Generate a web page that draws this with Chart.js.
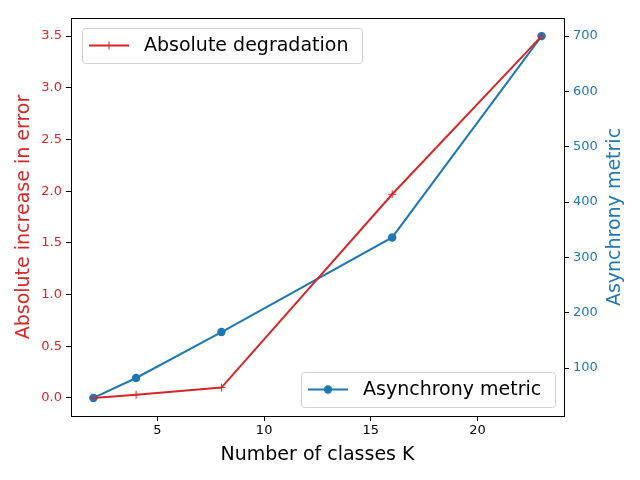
<!DOCTYPE html>
<html>
<head>
<meta charset="utf-8">
<script src="https://cdn.jsdelivr.net/npm/chart.js@4"></script>
<style>
  body { margin: 0; background: #fff; }
  #wrap { width: 640px; height: 480px; }
</style>
</head>
<body>
<div id="wrap"><canvas id="myChart" width="640" height="480"></canvas></div>
<script>
const classesK = [2, 4, 8, 16, 23];
const degradation = [0.0, 0.03, 0.1, 1.97, 3.5];
const asynchrony = [46, 82, 165, 336, 700];
const xTicks = [5, 10, 15, 20];
const leftTicks = [0, 0.5, 1.0, 1.5, 2.0, 2.5, 3.0, 3.5];
const rightTicks = [100, 200, 300, 400, 500, 600, 700];

const RED = '#d62728';
const BLUE = '#1f77b4';
const FONT = "'DejaVu Sans', sans-serif";

function toPoints(xs, ys) {
    return xs.map(function (x, i) { return { x: x, y: ys[i] }; });
}

// matplotlib-style legend boxes, one per axis
const boxLegends = {
    id: 'boxLegends',
    afterDraw: function (chart) {
        const ctx = chart.ctx;
        const area = chart.chartArea;
        const entries = [
            { ds: 0, label: 'Absolute degradation', x: area.left + 11, y: area.top + 10, w: 280, h: 35 },
            { ds: 1, label: 'Asynchrony metric', x: area.right - 263, y: area.bottom - 44, w: 254, h: 35 }
        ];
        entries.forEach(function (e) {
            const ds = chart.data.datasets[e.ds];
            ctx.save();
            ctx.fillStyle = 'rgba(255,255,255,0.8)';
            ctx.strokeStyle = '#d0d0d0';
            ctx.lineWidth = 1;
            ctx.beginPath();
            ctx.roundRect(e.x + 0.5, e.y + 0.5, e.w, e.h, 3);
            ctx.fill();
            ctx.stroke();
            const cy = e.y + e.h / 2;
            ctx.strokeStyle = ds.borderColor;
            ctx.lineWidth = 2;
            ctx.beginPath();
            ctx.moveTo(e.x + 7, cy);
            ctx.lineTo(e.x + 47, cy);
            ctx.stroke();
            const mx = e.x + 27;
            if (ds.pointStyle === 'circle') {
                ctx.fillStyle = ds.borderColor;
                ctx.beginPath();
                ctx.arc(mx, cy, 4.2, 0, Math.PI * 2);
                ctx.fill();
            } else {
                ctx.lineWidth = 1;
                ctx.beginPath();
                ctx.moveTo(mx - 4, cy); ctx.lineTo(mx + 4, cy);
                ctx.moveTo(mx, cy - 4); ctx.lineTo(mx, cy + 4);
                ctx.stroke();
            }
            ctx.fillStyle = '#000';
            ctx.font = '19px ' + FONT;
            ctx.textBaseline = 'middle';
            ctx.fillText(e.label, e.x + 62, cy + 1);
            ctx.restore();
        });
    }
};

// axis titles, both y titles read bottom-to-top like matplotlib
const axisTitles = {
    id: 'axisTitles',
    afterDraw: function (chart) {
        const c = chart.ctx, a = chart.chartArea;
        const midY = (a.top + a.bottom) / 2;
        c.save();
        c.font = '19px ' + FONT;
        c.textAlign = 'center';
        c.textBaseline = 'middle';
        c.fillStyle = '#000';
        c.fillText('Number of classes K', (a.left + a.right) / 2, a.bottom + 39);
        [[24, RED, 'Absolute increase in error'], [615, BLUE, 'Asynchrony metric']].forEach(function (t) {
            c.save();
            c.translate(t[0], midY);
            c.rotate(-Math.PI / 2);
            c.fillStyle = t[1];
            c.fillText(t[2], 0, 0);
            c.restore();
        });
        c.strokeStyle = '#000';
        c.lineWidth = 1;
        c.beginPath();
        c.moveTo(a.left, a.top + 0.5);
        c.lineTo(a.right, a.top + 0.5);
        c.stroke();
        c.restore();
    }
};

document.addEventListener('DOMContentLoaded', function () {
    const chartEl = document.getElementById('myChart');
    try {
        const ctx = chartEl.getContext('2d');
        new Chart(ctx, {
            type: 'line',
            data: {
                datasets: [
                    {
                        label: 'Absolute degradation',
                        data: toPoints(classesK, degradation),
                        borderColor: RED,
                        backgroundColor: RED,
                        borderWidth: 2,
                        pointStyle: 'cross',
                        pointRadius: 4,
                        pointBorderWidth: 1,
                        yAxisID: 'y',
                        tension: 0
                    },
                    {
                        label: 'Asynchrony metric',
                        data: toPoints(classesK, asynchrony),
                        borderColor: BLUE,
                        backgroundColor: BLUE,
                        borderWidth: 2,
                        pointStyle: 'circle',
                        pointRadius: 4.2,
                        pointBorderWidth: 0,
                        yAxisID: 'y1',
                        tension: 0
                    }
                ]
            },
            options: {
                responsive: false,
                animation: false,
                layout: { padding: { top: 18, left: 0, right: 0, bottom: 0 } },
                plugins: {
                    legend: { display: false },
                    tooltip: { enabled: false }
                },
                scales: {
                    x: {
                        type: 'linear',
                        min: 0.95,
                        max: 24.05,
                        afterBuildTicks: function (s) { s.ticks = xTicks.map(function (v) { return { value: v }; }); },
                        afterFit: function (s) { s.height = 64; },
                        grid: { drawOnChartArea: false, color: '#000', tickLength: 5, tickWidth: 1 },
                        border: { color: '#000', width: 1 },
                        ticks: { color: '#000', font: { family: FONT, size: 13 }, padding: 2 }
                    },
                    y: {
                        position: 'left',
                        min: -0.175,
                        max: 3.675,
                        afterBuildTicks: function (s) { s.ticks = leftTicks.map(function (v) { return { value: v }; }); },
                        afterFit: function (s) { s.width = 71; },
                        grid: { drawOnChartArea: false, color: '#000', tickLength: 5, tickWidth: 1 },
                        border: { color: '#000', width: 1 },
                        ticks: { color: RED, font: { family: FONT, size: 13 }, padding: 4, callback: function (v) { return v.toFixed(1); } }
                    },
                    y1: {
                        position: 'right',
                        min: 13.3,
                        max: 732.7,
                        afterBuildTicks: function (s) { s.ticks = rightTicks.map(function (v) { return { value: v }; }); },
                        afterFit: function (s) { s.width = 76; },
                        grid: { drawOnChartArea: false, color: '#000', tickLength: 5, tickWidth: 1 },
                        border: { color: '#000', width: 1 },
                        ticks: { color: BLUE, font: { family: FONT, size: 13 }, padding: 4 }
                    }
                }
            },
            plugins: [boxLegends, axisTitles]
        });
    } catch (err) {
        console.error("Chart error:", err);
    }
});
</script>
</body>
</html>
